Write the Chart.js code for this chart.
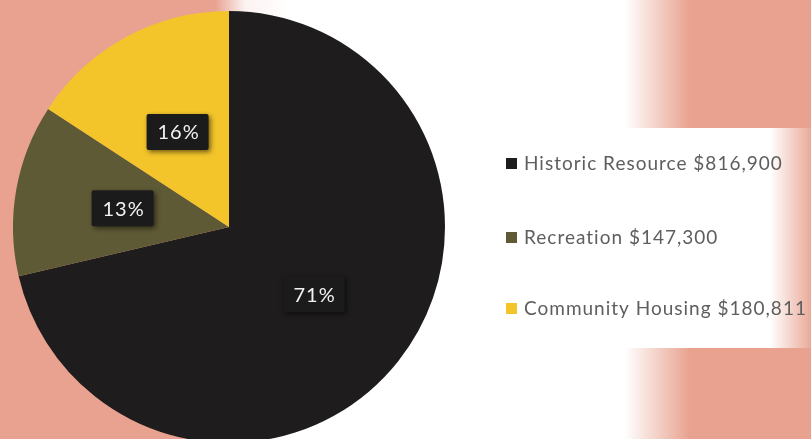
<!DOCTYPE html>
<html>
<head>
<meta charset="utf-8">
<script src="https://cdn.jsdelivr.net/npm/chart.js@4/dist/chart.umd.min.js"></script>
<style>
  html, body { margin:0; padding:0; width:811px; height:439px; overflow:hidden; }
  body {
    background:
      linear-gradient(to right, rgba(255,255,255,0) 450px, #fff 470px, #fff 770px, rgba(255,255,255,0) 815px) 0 128px / 811px 220px no-repeat,
      linear-gradient(to right, rgba(255,255,255,0) 215px, #fbf3f1 245px, #fff 290px, #fff 625px, rgba(255,255,255,0) 690px),
      #e8a28f;
  }
  #wrap { position:absolute; left:0; top:0; width:811px; height:460px; }
</style>
</head>
<body>
<div id="wrap"><canvas id="c"></canvas></div>
<script>
const categories = ["Historic Resource", "Recreation", "Community Housing"];
const amountLabels = ["$816,900", "$147,300", "$180,811"];
const values = [816900, 147300, 180811];
const colors = ["#1e1c1c", "#5e5a35", "#f3c52b"];

const pctLabels = {
  id: 'pctLabels',
  afterDatasetsDraw(chart) {
    const ctx = chart.ctx;
    const meta = chart.getDatasetMeta(0);
    const total = values.reduce((a, b) => a + b, 0);
    ctx.save();
    ctx.font = '20px Lato, "Open Sans", sans-serif';
    ctx.letterSpacing = '1px';
    ctx.textAlign = 'center';
    ctx.textBaseline = 'middle';
    meta.data.forEach((arc, i) => {
      const p = arc.tooltipPosition();
      const txt = Math.round(values[i] / total * 100) + '%';
      const w = 62, h = 36;
      ctx.save();
      ctx.shadowColor = 'rgba(0,0,0,0.55)';
      ctx.shadowBlur = 5;
      ctx.shadowOffsetX = 2;
      ctx.shadowOffsetY = 2;
      ctx.fillStyle = '#1c1b1b';
      ctx.beginPath();
      ctx.roundRect(p.x - w / 2, p.y - h / 2, w, h, 2);
      ctx.fill();
      ctx.restore();
      ctx.fillStyle = '#f2f2f2';
      ctx.fillText(txt, p.x + 1, p.y + 1);
    });
    ctx.restore();
  }
};

const sideLegend = {
  id: 'sideLegend',
  afterDraw(chart) {
    const ctx = chart.ctx;
    const x0 = 506, rows = [163, 237, 308];
    ctx.save();
    ctx.font = '19px Lato, "Open Sans", sans-serif';
    ctx.letterSpacing = '1px';
    ctx.textBaseline = 'middle';
    ctx.textAlign = 'left';
    categories.forEach((c, i) => {
      const y = rows[i];
      ctx.fillStyle = colors[i];
      ctx.fillRect(x0, y - 5, 11, 11);
      ctx.fillStyle = '#5e5e5e';
      ctx.fillText(c + ' ' + amountLabels[i], x0 + 18, y + 1);
    });
    ctx.restore();
  }
};

new Chart(document.getElementById('c'), {
  type: 'pie',
  data: {
    labels: categories,
    datasets: [{
      data: values,
      backgroundColor: colors,
      borderWidth: 0
    }]
  },
  options: {
    responsive: true,
    maintainAspectRatio: false,
    animation: false,
    layout: { padding: { left: 13, right: 366, top: 11, bottom: 17 } },
    plugins: {
      legend: { display: false },
      tooltip: { enabled: false }
    }
  },
  plugins: [pctLabels, sideLegend]
});
</script>
</body>
</html>
